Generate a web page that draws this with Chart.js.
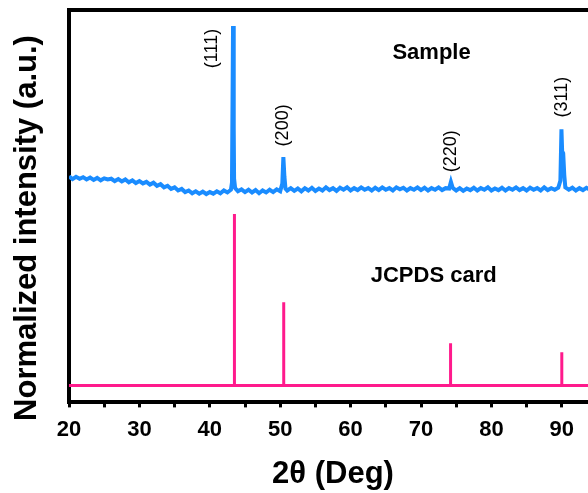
<!DOCTYPE html>
<html>
<head>
<meta charset="utf-8">
<script src="https://cdn.jsdelivr.net/npm/chart.js@4.4.1/dist/chart.umd.min.js"></script>
<style>
    html, body { margin: 0; padding: 0; background: #fff; overflow: hidden; }
    #wrap { width: 588px; height: 493px; overflow: hidden; }
</style>
</head>
<body>
<div id="wrap"><canvas id="chart" width="606" height="493"></canvas></div>
<script>
// measured sample pattern (2 theta, normalized intensity)
const sampleAngle = [
    20.0, 20.5, 21.0, 21.5, 22.0, 22.5, 23.0, 23.5, 24.0, 24.5, 25.0, 25.5, 26.0, 26.5,
    27.0, 27.5, 28.0, 28.5, 29.0, 29.5, 30.0, 30.5, 31.0, 31.5, 32.0, 32.5, 33.0, 33.5,
    34.0, 34.5, 35.0, 35.5, 36.0, 36.5, 37.0, 37.5, 38.0, 38.5, 39.0, 39.5, 40.0, 40.5,
    41.0, 41.5, 42.0, 42.5, 43.0, 43.15, 43.3, 43.4, 43.45, 43.6, 44.0, 44.5, 45.0, 45.5,
    46.0, 46.5, 47.0, 47.5, 48.0, 48.5, 49.0, 49.5, 50.0, 50.3, 50.45, 50.6, 50.75, 51.0,
    51.5, 52.0, 52.5, 53.0, 53.5, 54.0, 54.5, 55.0, 55.5, 56.0, 56.5, 57.0, 57.5, 58.0,
    58.5, 59.0, 59.5, 60.0, 60.5, 61.0, 61.5, 62.0, 62.5, 63.0, 63.5, 64.0, 64.5, 65.0,
    65.5, 66.0, 66.5, 67.0, 67.5, 68.0, 68.5, 69.0, 69.5, 70.0, 70.5, 71.0, 71.5, 72.0,
    72.5, 73.0, 73.5, 74.0, 74.25, 74.5, 75.0, 75.5, 76.0, 76.5, 77.0, 77.5, 78.0, 78.5,
    79.0, 79.5, 80.0, 80.5, 81.0, 81.5, 82.0, 82.5, 83.0, 83.5, 84.0, 84.5, 85.0, 85.5,
    86.0, 86.5, 87.0, 87.5, 88.0, 88.5, 89.0, 89.5, 89.8, 89.95, 90.05, 90.2, 90.35, 90.5,
    91.0, 91.5, 92.0, 92.5, 93.0, 93.5, 94.0, 94.5, 95.0
]
const sampleIntensity = [
    57.6, 56.9, 57.5, 57.0, 57.4, 56.8, 57.3, 56.7, 57.2, 56.6, 57.1, 56.8, 57.0, 56.4,
    56.9, 56.3, 56.8, 56.1, 56.6, 55.9, 56.4, 55.8, 56.2, 55.5, 56.0, 55.2, 55.6, 54.8,
    55.2, 54.4, 54.8, 54.0, 54.4, 53.6, 54.0, 53.3, 53.8, 53.2, 53.7, 53.1, 53.6, 53.2,
    53.8, 53.3, 54.0, 53.5, 54.2, 56.0, 95.9, 70.0, 57.0, 54.6, 53.8, 54.3, 53.6, 54.2,
    53.5, 54.1, 53.3, 54.0, 53.5, 54.2, 53.6, 54.3, 53.8, 55.8, 62.5, 57.5, 54.5, 54.0,
    54.6, 53.9, 54.5, 53.8, 54.6, 54.0, 54.7, 53.9, 54.5, 54.0, 54.8, 54.1, 54.6, 53.9,
    54.7, 54.2, 54.8, 54.0, 54.6, 54.1, 54.8, 54.2, 54.6, 54.0, 54.7, 54.1, 54.8, 54.2,
    54.6, 54.0, 54.8, 54.3, 54.7, 54.0, 54.6, 54.2, 54.8, 54.1, 54.7, 54.0, 54.6, 54.2,
    54.8, 54.1, 54.6, 54.5, 56.2, 54.7, 54.0, 54.6, 53.9, 54.5, 54.1, 54.7, 54.0, 54.6,
    54.2, 54.8, 54.0, 54.5, 54.1, 54.7, 54.0, 54.6, 54.2, 54.8, 54.1, 54.6, 54.0, 54.7,
    54.2, 54.6, 54.0, 54.8, 54.1, 54.6, 54.2, 54.7, 56.5, 69.6, 64.0, 63.5, 58.0, 54.8,
    54.2, 54.7, 54.0, 54.6, 54.1, 54.7, 54.2, 54.6, 54.0
]

// reference card lines
const cardAngle = [43.5, 50.5, 74.2, 90.0]
const cardIntensity = [48.0, 25.5, 15.1, 12.8]
const cardBase = 4.3

// peak labels
const peakLabels = ["(111)", "(200)", "(220)", "(311)"]
const peakLabelAngle = [40.3, 50.4, 74.2, 90.0]
const peakLabelLevel = [90.2, 70.6, 64.0, 77.8]

const xTicks = [20, 30, 40, 50, 60, 70, 80, 90]

function CardPoints() {
    const pts = [{ x: 20, y: cardBase }]
    cardAngle.forEach((a, i) => {
        pts.push({ x: a, y: cardBase })
        pts.push({ x: a, y: cardIntensity[i] })
        pts.push({ x: a, y: cardBase })
    })
    pts.push({ x: 95, y: cardBase })
    return pts
}

const labelPlugin = {
    id: "peakText",
    afterDraw(chart) {
        const { ctx, scales: { x, y } } = chart
        ctx.save()
        ctx.fillStyle = "#000"
        ctx.textAlign = "center"
        ctx.textBaseline = "middle"

        // rotated miller indices
        ctx.font = "18px 'Liberation Sans', Arial, sans-serif"
        peakLabels.forEach((txt, i) => {
            ctx.save()
            ctx.translate(x.getPixelForValue(peakLabelAngle[i]), y.getPixelForValue(peakLabelLevel[i]))
            ctx.rotate(-Math.PI / 2)
            ctx.fillText(txt, 0, 0)
            ctx.restore()
        })

        ctx.font = "bold 22px 'Liberation Sans', Arial, sans-serif"
        ctx.fillText("Sample", x.getPixelForValue(71.5), y.getPixelForValue(89.1))
        ctx.fillText("JCPDS card", x.getPixelForValue(71.8), y.getPixelForValue(32.3))

        // y axis title
        ctx.font = "bold 31px 'Liberation Sans', Arial, sans-serif"
        ctx.translate(27, 228)
        ctx.rotate(-Math.PI / 2)
        ctx.fillText("Normalized intensity (a.u.)", 0, 0)
        ctx.restore()
    }
}

const sampleData = sampleAngle.map((a, i) => ({ x: a, y: sampleIntensity[i] }))

new Chart(document.getElementById("chart"), {
    type: "line",
    data: {
        datasets: [
            {
                label: "JCPDS card",
                data: CardPoints(),
                borderColor: "#ff1a8c",
                borderWidth: 3,
                pointRadius: 0,
                tension: 0
            },
            {
                label: "Sample",
                data: sampleData,
                borderColor: "#1a8cff",
                borderWidth: 4,
                pointRadius: 0,
                tension: 0
            }
        ]
    },
    options: {
        responsive: false,
        animation: false,
        devicePixelRatio: 1,
        layout: { padding: { left: 69, top: 10, right: 0, bottom: 0 } },
        plugins: { legend: { display: false }, tooltip: { enabled: false } },
        scales: {
            x: {
                type: "linear",
                min: 20,
                max: 95,
                afterBuildTicks: scale => {
                    const t = []
                    for (let v = 20; v <= 95; v += 5) t.push({ value: v })
                    scale.ticks = t
                },
                ticks: {
                    color: "#000",
                    padding: 9,
                    maxRotation: 0,
                    autoSkip: false,
                    font: { family: "'Liberation Sans', Arial, sans-serif", size: 22, weight: "bold" },
                    callback: v => xTicks.includes(v) ? String(v) : ""
                },
                grid: { drawOnChartArea: false, drawTicks: true, tickLength: 5, tickWidth: 3, tickColor: "#000" },
                border: { display: true, color: "#000", width: 4 },
                title: {
                    display: true,
                    text: "2θ (Deg)",
                    color: "#000",
                    font: { family: "'Liberation Sans', Arial, sans-serif", size: 31, weight: "bold" },
                    padding: { top: 4, bottom: 0 }
                }
            },
            x2: {
                type: "linear",
                position: "top",
                min: 20,
                max: 95,
                ticks: { display: false },
                grid: { display: false, drawTicks: false },
                border: { display: true, color: "#000", width: 4 }
            },
            y: {
                min: 0,
                max: 100,
                ticks: { display: false },
                grid: { display: false, drawTicks: false },
                border: { display: true, color: "#000", width: 4 }
            },
            y2: {
                position: "right",
                min: 0,
                max: 100,
                ticks: { display: false },
                grid: { display: false, drawTicks: false },
                border: { display: true, color: "#000", width: 4 }
            }
        }
    },
    plugins: [labelPlugin]
})
</script>
</body>
</html>
